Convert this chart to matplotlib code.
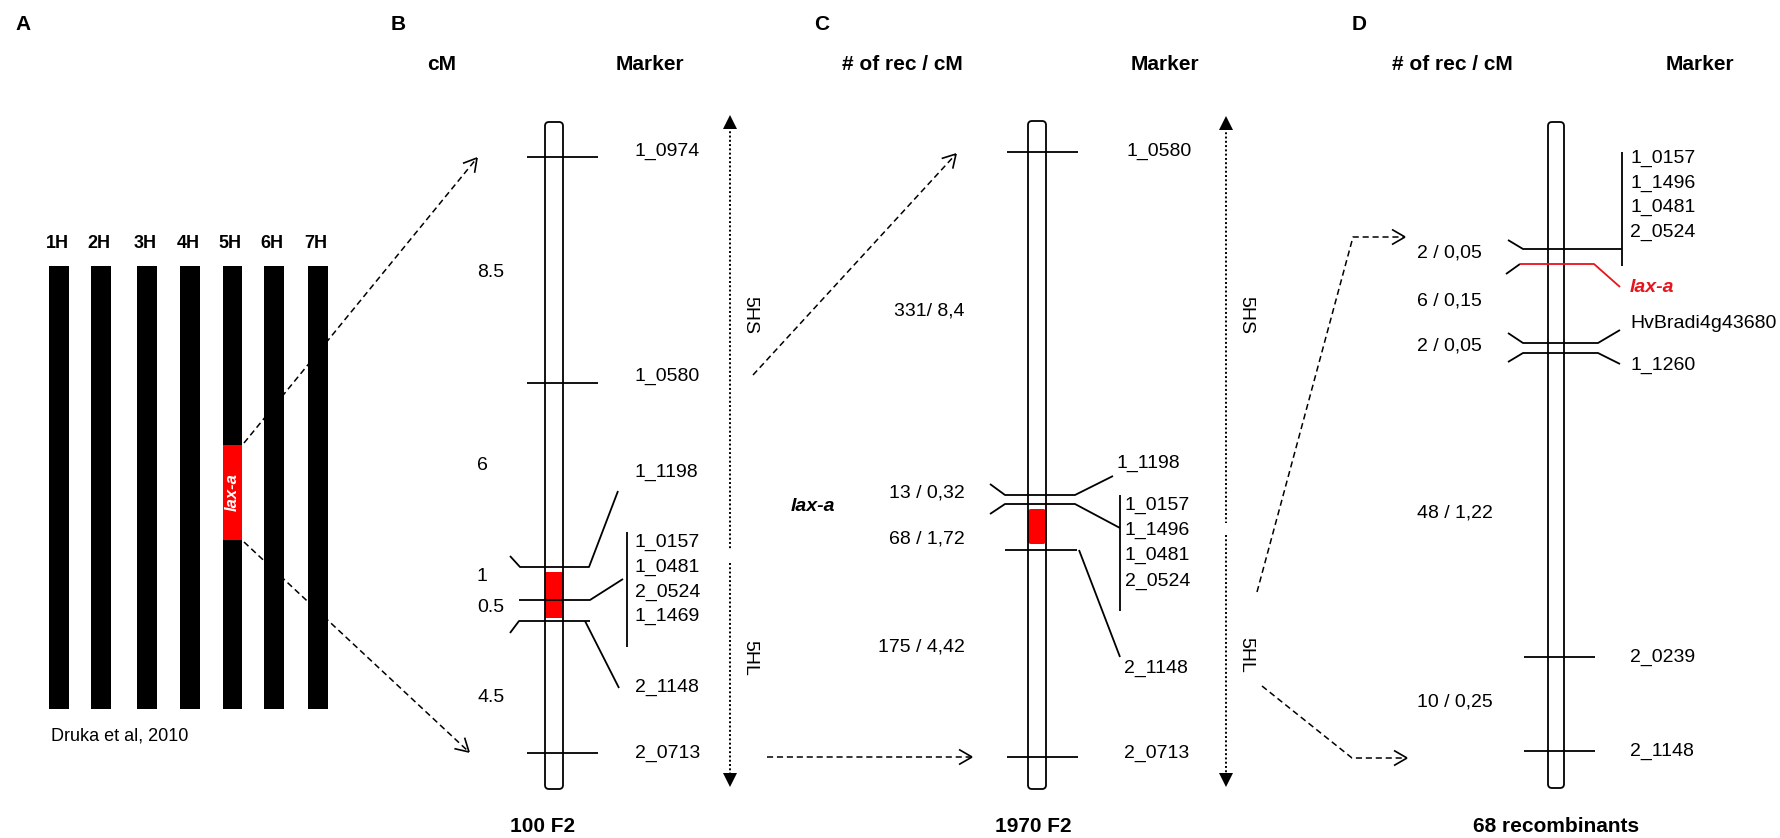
import matplotlib
matplotlib.use('Agg')
import matplotlib.pyplot as plt
from matplotlib.patches import FancyBboxPatch, Rectangle
import numpy as np

plt.rcParams['font.family'] = ['Liberation Sans', 'DejaVu Sans']

# ---------------- data (labels) ----------------
a_chroms = ['1H', '2H', '3H', '4H', '5H', '6H', '7H']
gene = 'lax-a'
a_source = 'Druka et al, 2010'

b_markers = ['1_0974', '1_0580', '1_1198', '1_0157', '1_0481', '2_0524',
             '1_1469', '2_1148', '2_0713']
b_cm = ['8.5', '6', '1', '0.5', '4.5']

c_markers = ['1_0580', '1_1198', '1_0157', '1_1496', '1_0481', '2_0524',
             '2_1148', '2_0713']
c_rec = ['331/ 8,4', '13 / 0,32', '68 / 1,72', '175 / 4,42']

d_markers = ['1_0157', '1_1496', '1_0481', '2_0524', 'lax-a',
             'HvBradi4g43680', '1_1260', '2_0239', '2_1148']
d_rec = ['2 / 0,05', '6 / 0,15', '2 / 0,05', '48 / 1,22', '10 / 0,25']

populations = ['100 F2', '1970 F2', '68 recombinants']

# ---------------- layout (pixel space, y grows downward) ----------------
a_bar_x = [59, 100.5, 147, 190, 232, 274, 317.5]
b_marker_y = [151, 376, 472, 542, 567, 592, 616, 687, 753]
b_cm_y = [272, 465, 576, 607, 697]
c_marker_y = [151, 463, 505, 530, 555, 581, 668, 753]
c_rec_y = [311, 493, 539, 647]
d_marker_y = [158, 183, 207, 232, 287, 323, 365, 657, 751]
d_rec_y = [253, 301, 346, 513, 702]

LW = 1.3
FS = 14

fig = plt.figure(figsize=(17.8, 8.38), dpi=100)
ax = fig.add_axes([0, 0, 1, 1])
ax.set_xlim(0, 1780)
ax.set_ylim(838, 0)
ax.axis('off')


def seg(pts, color='black', ls='-', lw=LW, z=4):
    xs, ys = zip(*pts)
    ax.plot(xs, ys, color=color, linestyle=ls, linewidth=lw,
            solid_capstyle='butt', zorder=z)


def chromosome(x0, x1, y0, y1):
    ax.add_patch(FancyBboxPatch((x0, y0), x1 - x0, y1 - y0,
                                boxstyle='round,pad=0,rounding_size=4',
                                facecolor='none', edgecolor='black',
                                linewidth=LW, zorder=3))


def open_head(tip, tail, size=15):
    d = np.array(tip, float) - np.array(tail, float)
    d /= np.hypot(*d)
    for a in (np.radians(30), -np.radians(30)):
        rot = np.array([[np.cos(a), -np.sin(a)], [np.sin(a), np.cos(a)]])
        p = np.array(tip, float) - size * (rot @ d)
        seg([tip, tuple(p)], lw=1.2)


def dashed_arrow(pts):
    seg(pts, ls=(0, (4, 2.5)), lw=1.1)
    open_head(pts[-1], pts[-2])


def arm_arrow(x, top, split_top, split_bot, bottom, lbl_x, hs_y, hl_y):
    ax.plot([x, x], [top + 12, split_top], color='black',
            linestyle=(0, (1, 1.2)), linewidth=1.4)
    ax.plot([x, x], [split_bot, bottom - 12], color='black',
            linestyle=(0, (1, 1.2)), linewidth=1.4)
    ax.plot(x, top + 7, marker='^', ms=10, color='black', mew=0)
    ax.plot(x, bottom - 7, marker='v', ms=10, color='black', mew=0)
    ax.text(lbl_x, hs_y, '5HS', rotation=270, ha='center', va='center', fontsize=14)
    ax.text(lbl_x, hl_y, '5HL', rotation=270, ha='center', va='center', fontsize=14)


def label(x, y, s, ha='left', **kw):
    ax.text(x, y, s, ha=ha, va='center', fontsize=FS, **kw)


# ---------------- panel letters and headers ----------------
for s, x in zip('ABCD', [23, 398, 822, 1359]):
    ax.text(x, 25, s, ha='center', va='center', fontsize=15, fontweight='bold')

for s, x in [('cM', 442), ('Marker', 650), ('# of rec / cM', 902),
             ('Marker', 1165), ('# of rec / cM', 1452), ('Marker', 1700)]:
    ax.text(x, 65, s, ha='center', va='center', fontsize=15, fontweight='bold')

for s, x in zip(populations, [543, 1033, 1556]):
    ax.text(x, 826, s, ha='center', va='center', fontsize=15, fontweight='bold')

# ---------------- A: barley chromosomes ----------------
for name, x in zip(a_chroms, a_bar_x):
    w = 19 if name == '5H' else 20
    ax.add_patch(Rectangle((x - w / 2, 266), w, 443, facecolor='black',
                           edgecolor='none', zorder=2))
    ax.text(x - 2, 243, name, ha='center', va='center', fontsize=13, fontweight='bold')
ax.add_patch(Rectangle((232 - 9.5, 445), 19, 95, facecolor='#FF0000',
                       edgecolor='none', zorder=3))
ax.text(232, 492, gene, rotation=90, ha='center', va='center', color='white',
        fontsize=12, style='italic', fontweight='bold', zorder=4)
ax.text(51, 736, a_source, ha='left', va='center', fontsize=13)

dashed_arrow([(244, 443), (477, 158)])
dashed_arrow([(244, 542), (469, 752)])

# ---------------- B: 100 F2 map ----------------
ax.add_patch(Rectangle((545, 572), 18, 46, facecolor='#FF0000', edgecolor='none', zorder=2))
chromosome(545, 563, 122, 789)
for y in [157, 383, 753]:
    seg([(527, y), (598, y)])
seg([(510, 556), (520, 567), (589, 567), (618, 491)])
seg([(519, 600), (590, 600), (623, 579)])
seg([(510, 633), (519, 621), (590, 621)])
seg([(585, 621), (619, 688)])
seg([(627, 532), (627, 647)])
for s, y in zip(b_markers, b_marker_y):
    label(635, y, s)
for s, y in zip(b_cm, b_cm_y):
    label(477, y, s)
arm_arrow(730, 115, 549, 563, 787, 750, 315, 658)

dashed_arrow([(753, 375), (956, 154)])
dashed_arrow([(767, 757), (972, 757)])

# ---------------- C: 1970 F2 map ----------------
ax.add_patch(FancyBboxPatch((1028, 509), 18, 35, boxstyle='round,pad=0,rounding_size=3',
                            facecolor='#FF0000', edgecolor='none', zorder=2))
chromosome(1028, 1046, 121, 789)
for y in [152, 757]:
    seg([(1007, y), (1078, y)])
seg([(990, 484), (1005, 495), (1075, 495), (1113, 476)])
seg([(990, 514), (1005, 504), (1075, 504), (1120, 528)])
seg([(1005, 550), (1077, 550)])
seg([(1079, 550), (1120, 657)])
seg([(1120, 495), (1120, 611)])
c_x = [1126, 1116, 1125, 1125, 1125, 1125, 1124, 1124]
for s, x, y in zip(c_markers, c_x, c_marker_y):
    label(x, y, s)
for s, y in zip(c_rec, c_rec_y):
    label(965, y, s, ha='right')
ax.text(791, 506, gene, ha='left', va='center', fontsize=FS,
        style='italic', fontweight='bold')
arm_arrow(1226, 116, 523, 535, 787, 1246, 315, 655)

dashed_arrow([(1257, 592), (1353, 237), (1405, 237)])
dashed_arrow([(1262, 686), (1352, 758), (1407, 758)])

# ---------------- D: 68 recombinants ----------------
chromosome(1548, 1564, 122, 788)
seg([(1508, 240), (1523, 249), (1622, 249)])
seg([(1622, 152), (1622, 266)])
seg([(1506, 274), (1520, 264)])
seg([(1520, 264), (1594, 264), (1620, 287)], color='#E8141B')
seg([(1508, 333), (1523, 343), (1598, 343), (1620, 330)])
seg([(1508, 362), (1523, 353), (1598, 353), (1620, 364)])
for y in [657, 751]:
    seg([(1524, y), (1595, y)])
for s, y in zip(d_markers, d_marker_y):
    if s == gene:
        label(1630, y, s, color='#E8141B', style='italic', fontweight='bold')
    else:
        label(1630, y, s)
for s, y in zip(d_rec, d_rec_y):
    label(1417, y, s)

plt.savefig('out.png', dpi=100, facecolor='white')
